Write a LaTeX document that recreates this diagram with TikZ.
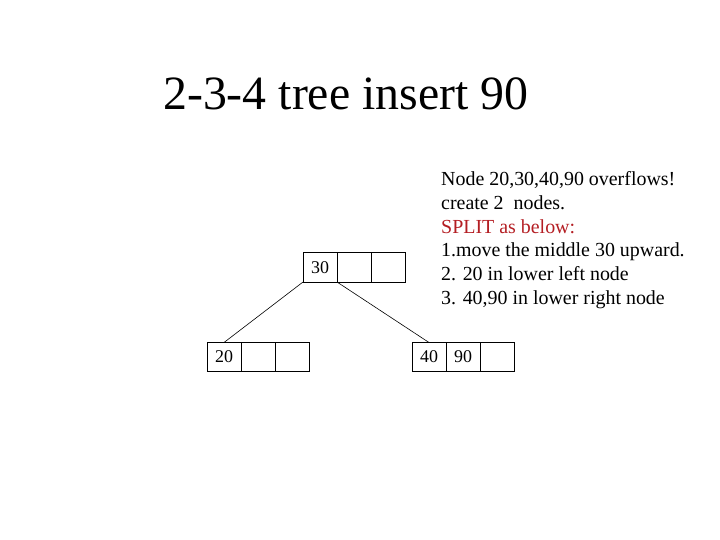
\documentclass[tikz,border=0pt]{standalone}
\usepackage{fontspec}
\setmainfont{Liberation Serif}
\definecolor{splitred}{RGB}{180,30,35}
\begin{document}
\begin{tikzpicture}[x=1bp,y=-1bp,
  cell/.style={draw, line width=1bp, minimum width=34bp, minimum height=29bp, inner sep=0pt, outer sep=0pt, font=\fontsize{18}{18}\selectfont},
  body/.style={anchor=base west, inner sep=0pt, font=\fontsize{20}{24}\selectfont},
  edge/.style={line width=0.6bp}]
\useasboundingbox (0,0) rectangle (720,540);
% title
\node[anchor=base west, inner sep=0pt, font=\fontsize{48}{48}\selectfont] (title) at (163,110) {2-3-4 tree insert 90};
% top node
\node[cell] (t1) at (320,267.5) {30};
\node[cell, anchor=west] (t2) at (t1.east) {};
\node[cell, anchor=west] (t3) at (t2.east) {};
% left node
\node[cell] (a1) at (224,357) {20};
\node[cell, anchor=west] (a2) at (a1.east) {};
\node[cell, anchor=west] (a3) at (a2.east) {};
% right node
\node[cell] (b1) at (429,357) {40};
\node[cell, anchor=west] (b2) at (b1.east) {90};
\node[cell, anchor=west] (b3) at (b2.east) {};
% edges
\draw[edge] (t1.south west) -- (a1.north);
\draw[edge] (t1.south east) -- (b1.north);
% text
\node[body] (l1) at (441,186) {Node 20,30,40,90 overflows!};
\node[body] (l2) at (441,209.6) {create 2\ \ nodes.};
\node[body, text=splitred] (l3) at (441,233.2) {SPLIT as below:};
\node[body] (l4) at (441,256.8) {1.move the middle 30 upward.};
\node[body] (l5) at (441,280.4) {2. 20 in lower left node};
\node[body] (l6) at (441,304) {3. 40,90 in lower right node};
\end{tikzpicture}
\end{document}
